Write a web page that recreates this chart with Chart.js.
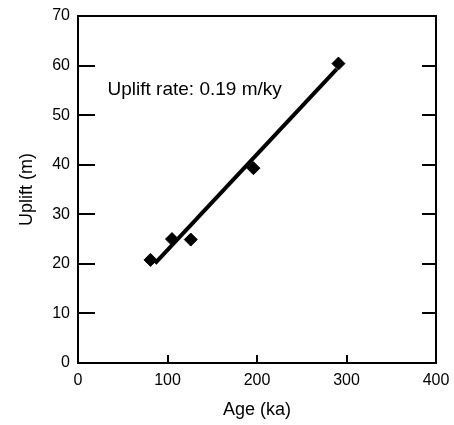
<!DOCTYPE html>
<html>
<head>
<meta charset="utf-8">
<script src="https://cdn.jsdelivr.net/npm/chart.js@4"></script>
<style>
    html, body { margin: 0; padding: 0; background: #fff; }
    #wrap { width: 454px; height: 425px; }
</style>
</head>
<body>
<div id="wrap"><canvas id="upliftChart"></canvas></div>
<script>
// Data
const ages = [81, 105, 126, 196, 291];
const uplift = [20.8, 25.0, 24.9, 39.3, 60.4];
const fitAges = [86, 289];
const fitUplift = [20.1, 59.3];
const xTicks = [0, 100, 200, 300, 400];
const yTicks = [0, 10, 20, 30, 40, 50, 60, 70];
const rateLabel = 'Uplift rate: 0.19 m/ky';
const ratePos = [33, 55.2];

const FONT = "'Liberation Sans', Arial, sans-serif";

function toPoints(xs, ys) {
    return xs.map((x, i) => ({ x: x, y: ys[i] }));
}

// frame, inward ticks and the rate label
const framePlugin = {
    id: 'frame',
    afterDatasetsDraw(chart) {
        const ctx = chart.ctx;
        const area = chart.chartArea;
        const xs = chart.scales.x;
        const ys = chart.scales.y;
        ctx.save();
        ctx.strokeStyle = '#000';
        ctx.lineWidth = 2;
        ctx.beginPath();
        ctx.moveTo(area.left, area.top);
        ctx.lineTo(area.right, area.top);
        ctx.lineTo(area.right, area.bottom);
        ctx.stroke();

        ctx.beginPath();
        yTicks.slice(1, -1).forEach(v => {
            const py = Math.round(ys.getPixelForValue(v));
            ctx.moveTo(area.left, py);
            ctx.lineTo(area.left + 17, py);
            ctx.moveTo(area.right, py);
            ctx.lineTo(area.right - 14, py);
        });
        xTicks.slice(1, -1).forEach(v => {
            const px = Math.round(xs.getPixelForValue(v));
            ctx.moveTo(px, area.bottom);
            ctx.lineTo(px, area.bottom - 8);
        });
        ctx.stroke();

        ctx.fillStyle = '#000';
        ctx.font = '19px ' + FONT;
        ctx.textAlign = 'left';
        ctx.textBaseline = 'middle';
        ctx.fillText(rateLabel, xs.getPixelForValue(ratePos[0]), ys.getPixelForValue(ratePos[1]));
        ctx.restore();
    }
};

new Chart(document.getElementById('upliftChart'), {
    type: 'scatter',
    data: {
        datasets: [{
            type: 'line',
            data: toPoints(fitAges, fitUplift),
            borderColor: '#000',
            borderWidth: 4,
            pointRadius: 0,
            fill: false,
            order: 2
        }, {
            data: toPoints(ages, uplift),
            pointStyle: 'rectRot',
            pointRadius: 6.5,
            pointBackgroundColor: '#000',
            pointBorderColor: '#000',
            pointBorderWidth: 1,
            order: 1
        }]
    },
    options: {
        responsive: true,
        maintainAspectRatio: false,
        animation: false,
        layout: {
            padding: { top: 16, right: 18, left: 0, bottom: 0 }
        },
        plugins: {
            legend: { display: false },
            tooltip: { enabled: false }
        },
        scales: {
            x: {
                type: 'linear',
                min: 0,
                max: 400,
                afterBuildTicks: scale => { scale.ticks = xTicks.map(v => ({ value: v })); },
                afterFit: scale => {
                    scale.height = 62;
                    scale.paddingLeft = 0;
                    scale.paddingRight = 0;
                },
                grid: { display: false, drawTicks: false },
                border: { display: true, color: '#000', width: 2 },
                ticks: {
                    color: '#000',
                    padding: 8,
                    maxRotation: 0,
                    font: { family: FONT, size: 16 }
                },
                title: {
                    display: true,
                    text: 'Age (ka)',
                    color: '#000',
                    padding: { top: 0, bottom: 4 },
                    font: { family: FONT, size: 18 }
                }
            },
            y: {
                type: 'linear',
                min: 0,
                max: 70,
                afterBuildTicks: scale => { scale.ticks = yTicks.map(v => ({ value: v })); },
                afterFit: scale => {
                    scale.width = 78;
                    scale.paddingTop = 0;
                    scale.paddingBottom = 0;
                },
                grid: { display: false, drawTicks: false },
                border: { display: true, color: '#000', width: 2 },
                ticks: {
                    color: '#000',
                    padding: 8,
                    font: { family: FONT, size: 16 }
                },
                title: {
                    display: true,
                    text: 'Uplift (m)',
                    color: '#000',
                    padding: { top: 16, bottom: 0 },
                    font: { family: FONT, size: 18 }
                }
            }
        }
    },
    plugins: [framePlugin]
});
</script>
</body>
</html>
